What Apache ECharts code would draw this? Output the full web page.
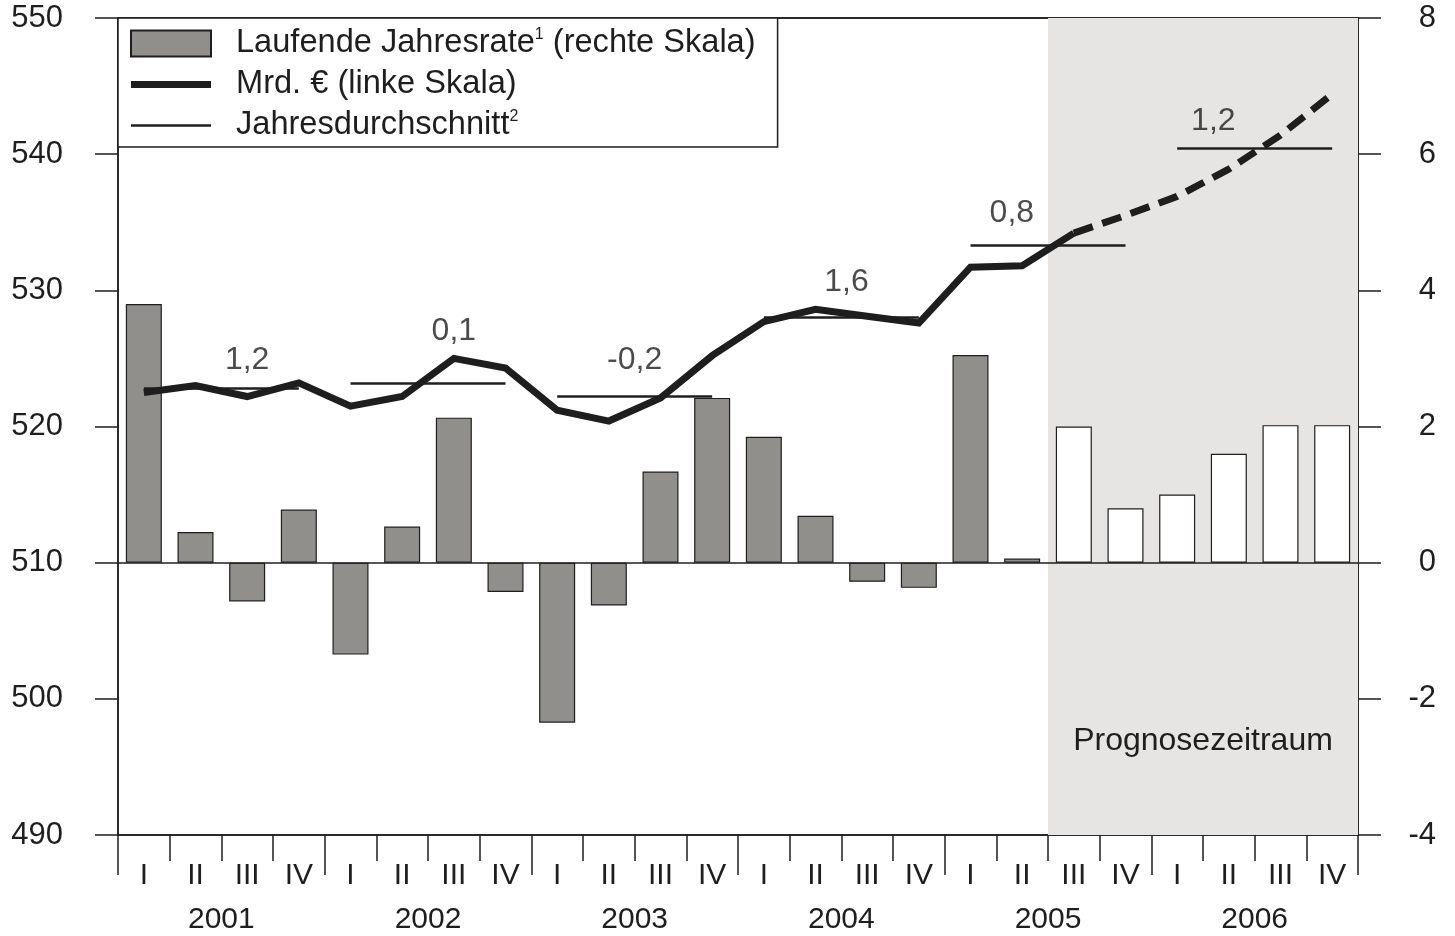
<!DOCTYPE html>
<html><head><meta charset="utf-8">
<script src="https://cdn.jsdelivr.net/npm/echarts@6/dist/echarts.min.js"></script>
<style>html,body{margin:0;padding:0;background:#fff}#c{width:1455px;height:936px}</style>
</head><body><div id="c"></div>
<script>
// ---- data ----
const quarters = ['I','II','III','IV','I','II','III','IV','I','II','III','IV','I','II','III','IV','I','II','III','IV','I','II','III','IV'];
const years = ['2001','2002','2003','2004','2005','2006'];
// Laufende Jahresrate (rechte Skala, %)
const rate = [3.8,0.45,-0.57,0.78, -1.35,0.53,2.13,-0.43, -2.35,-0.63,1.34,2.42, 1.85,0.69,-0.28,-0.37, 3.05,0.06,2.0,0.8, 1.0,1.6,2.02,2.02];
// Mrd. € (linke Skala)
const level = [522.5,523.0,522.2,523.2, 521.5,522.2,525.0,524.3, 521.2,520.4,522.1,525.2, 527.7,528.6,528.1,527.6, 531.7,531.8,534.2,535.5, 536.9,538.9,541.4,544.4];
const forecastStart = 18; // 2005 III
// Jahresdurchschnitt
const avgValues = [522.8,523.2,522.2,528.0,533.3,540.4];
const avgLabels = ['1,2','0,1','-0,2','1,6','0,8','1,2'];
const avgLabelX = [2.5,6.5,10.0,14.1,17.3,21.2];
const avgLabelY = [524.9,527.0,524.9,530.6,535.7,542.4];
const leftMin = 490, leftMax = 550, leftStep = 10;
const rightMin = -4, rightMax = 8, rightStep = 2;

// ---- styles ----
const FONT = 'Liberation Sans, Arial, sans-serif';
const INK = '#1e1e1e';
const BAR_GRAY = '#918f8c';
const SHADE = '#e6e5e3';

const barData = rate.map((v, i) => i >= forecastStart
  ? { value: v, itemStyle: { color: '#fff' } }
  : v);
const histLine = level.map((v, i) => i <= forecastStart ? v : null);
const foreLine = level.map((v, i) => i >= forecastStart ? v : null);
const avgLines = avgValues.map((v, k) => [
  { coord: [4 * k + 0.5, v] }, { coord: [4 * k + 3.5, v] }
]);
const avgLabelData = avgLabels.map((t, k) => ({ name: t, value: [avgLabelX[k], avgLabelY[k]] }));

const chart = echarts.init(document.getElementById('c'));
chart.setOption({
  animation: false,
  textStyle: { fontFamily: FONT, color: INK },
  grid: { left: 118, right: 97, top: 18, bottom: 101, show: true, borderColor: INK, borderWidth: 1.5, backgroundColor: 'transparent' },
  legend: {
    left: 118, top: 18, orient: 'vertical',
    backgroundColor: '#fff', borderColor: INK, borderWidth: 1.5,
    padding: [9, 22, 5, 12], itemGap: 8, itemWidth: 80, itemHeight: 26,
    textStyle: { fontFamily: FONT, fontSize: 32.6, color: INK, padding: [0, 0, 0, 20],
      rich: { sup: { fontSize: 16, verticalAlign: 'top', padding: [0, 0, 16, 0], fontFamily: FONT, color: INK } } },
    data: [
      { name: 'Laufende Jahresrate', icon: 'rect' },
      { name: 'Mrd. €', icon: 'path://M0,0H80V7H0Z' },
      { name: 'Jahresdurchschnitt', icon: 'path://M0,0H80V2.6H0Z' }
    ],
    formatter: function (n) {
      if (n === 'Laufende Jahresrate') return 'Laufende Jahresrate{sup|1} (rechte Skala)';
      if (n === 'Mrd. €') return 'Mrd. € (linke Skala)';
      return 'Jahresdurchschnitt{sup|2}';
    }
  },
  xAxis: [
    { type: 'category', data: quarters, position: 'bottom', boundaryGap: true,
      axisLine: { show: true, onZero: false, lineStyle: { color: INK, width: 1.5 } },
      axisTick: { show: true, interval: 0, length: 26, lineStyle: { color: INK, width: 1.5 } },
      axisLabel: { interval: 0, margin: 26, fontSize: 30, color: INK, fontFamily: FONT },
      splitLine: { show: false } },
    { type: 'category', data: years, position: 'bottom', boundaryGap: true,
      axisLine: { show: false, onZero: false },
      axisTick: { show: true, interval: 0, length: 40, lineStyle: { color: INK, width: 1.5 } },
      axisLabel: { interval: 0, margin: 70, fontSize: 30, color: INK, fontFamily: FONT },
      splitLine: { show: false } },
    { type: 'value', min: 0, max: 24, position: 'top',
      axisLine: { show: true, onZero: false, lineStyle: { color: INK, width: 1.5 } },
      axisTick: { show: false }, axisLabel: { show: false }, splitLine: { show: false } }
  ],
  yAxis: [
    { type: 'value', min: leftMin, max: leftMax, interval: leftStep, position: 'left',
      axisLine: { show: true, onZero: false, lineStyle: { color: INK, width: 1.5 } },
      axisTick: { show: true, length: 23, lineStyle: { color: INK, width: 1.5 } },
      axisLabel: { margin: 55, fontSize: 31, color: INK, fontFamily: FONT },
      splitLine: { show: false } },
    { type: 'value', min: rightMin, max: rightMax, interval: rightStep, position: 'right',
      axisLine: { show: true, onZero: false, lineStyle: { color: INK, width: 1.5 } },
      axisTick: { show: true, length: 23, lineStyle: { color: INK, width: 1.5 } },
      axisLabel: { margin: 78, align: 'right', fontSize: 31, color: INK, fontFamily: FONT },
      splitLine: { show: false } }
  ],
  series: [
    { name: 'Jahresdurchschnitt', type: 'line', xAxisIndex: 2, yAxisIndex: 0, data: [],
      symbol: 'none', z: 1,
      lineStyle: { color: INK, width: 2.5 }, itemStyle: { color: INK },
      markArea: { silent: true, itemStyle: { color: SHADE },
        label: { show: true, position: 'insideBottom', distance: 78, fontSize: 32, color: INK, fontFamily: FONT },
        data: [[{ xAxis: forecastStart, name: 'Prognosezeitraum' }, { xAxis: 24 }]] } },
    { name: 'Laufende Jahresrate', type: 'bar', xAxisIndex: 0, yAxisIndex: 1, data: barData,
      barWidth: 36, z: 2,
      itemStyle: { color: BAR_GRAY, borderColor: INK, borderWidth: 1.2 },
      markLine: { silent: true, symbol: 'none', label: { show: false },
        lineStyle: { color: INK, width: 1.5, type: 'solid' }, data: [{ yAxis: 0 }] } },
    { name: 'Jahresdurchschnitt-Linien', type: 'line', xAxisIndex: 2, yAxisIndex: 0, data: [],
      symbol: 'none', z: 3,
      markLine: { silent: true, symbol: 'none', label: { show: false },
        lineStyle: { color: INK, width: 2.5, type: 'solid' }, data: avgLines } },
    { name: 'Mrd. €', type: 'line', xAxisIndex: 0, yAxisIndex: 0, data: histLine,
      symbol: 'none', z: 4, connectNulls: false,
      lineStyle: { color: INK, width: 7, cap: 'butt', join: 'miter' }, itemStyle: { color: INK } },
    { name: 'Mrd. € Prognose', type: 'line', xAxisIndex: 0, yAxisIndex: 0, data: foreLine,
      symbol: 'none', z: 4,
      lineStyle: { color: INK, width: 7, type: [20, 10], cap: 'butt' }, itemStyle: { color: INK } },
    { name: 'Labels', type: 'scatter', xAxisIndex: 2, yAxisIndex: 0, data: avgLabelData,
      symbolSize: 0, z: 5, silent: true,
      label: { show: true, position: 'inside', formatter: '{b}', fontSize: 32, color: INK, fontFamily: FONT } }
  ]
});
</script></body></html>
